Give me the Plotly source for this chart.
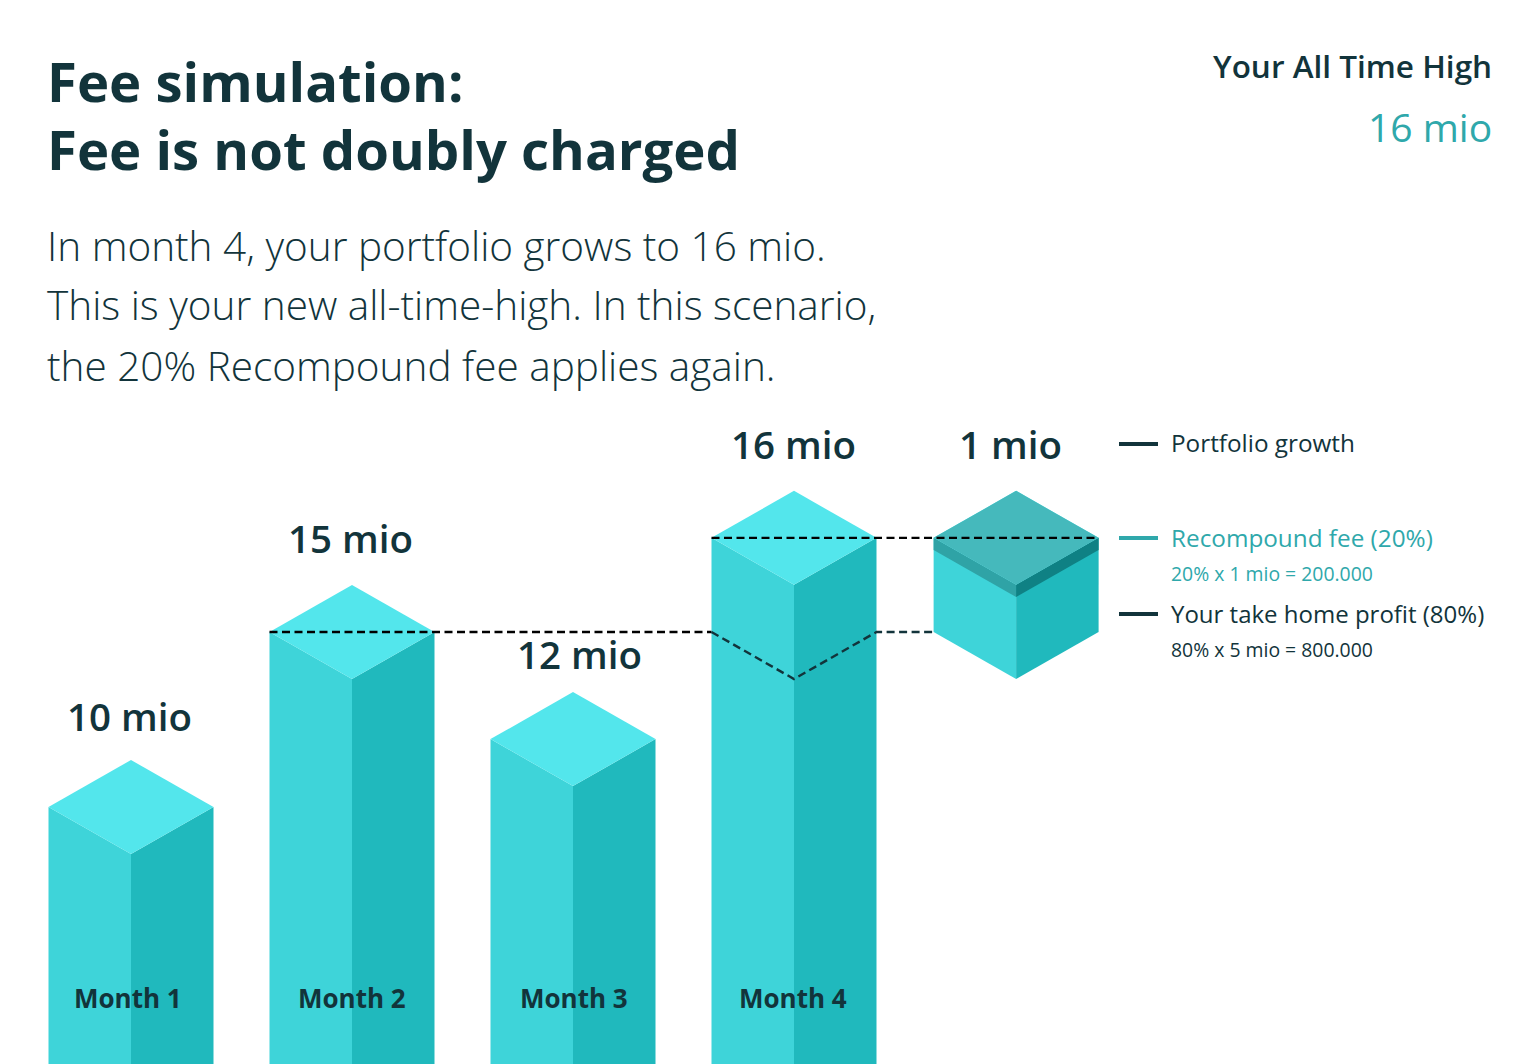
import plotly.graph_objects as go

# ---- data -------------------------------------------------------------
months = ["Month 1", "Month 2", "Month 3", "Month 4"]
month_pos = [1, 2, 3, 4]
value_labels = ["10 mio", "15 mio", "12 mio", "16 mio"]
drawn_heights = [10.0, 15.0, 11.94, 17.69]
previous_high = 15.0
cube_pos = 5.005
cube_label = "1 mio"
cube_base = 15.0
cube_top = 17.69
fee_band = 0.35
all_time_high = "16 mio"

title_lines = ["Fee simulation:", "Fee is not doubly charged"]
body_lines = ["In month 4, your portfolio grows to 16 mio.",
              "This is your new all-time-high. In this scenario,",
              "the 20% Recompound fee applies again."]

# ---- style ------------------------------------------------------------
W, H = 1540, 1064
DARK = "#12343B"
TEAL = "#2FA8AB"
TOP, LEFT, RIGHT = "#53E6EC", "#3ED4D9", "#20B9BD"
FEE_TOP, FEE_LEFT, FEE_RIGHT = "#45B9BC", "#2FA3A6", "#0F8184"
HALF_W = 82.5 / 221      # half bar width in slot units
RISE = 47 / 35           # rhombus half height in mio units
SANS = "Open Sans"

fig = go.Figure()

def poly(xs, ys, color):
    fig.add_trace(go.Scatter(x=xs, y=ys, mode="lines", fill="toself", fillcolor=color,
                             line=dict(width=0), hoverinfo="skip", showlegend=False))

def prism(c, base, top, cl=LEFT, cr=RIGHT, ct=TOP):
    poly([c - HALF_W, c, c, c - HALF_W, c - HALF_W],
         [top, top - RISE, base - RISE, base, top], cl)
    poly([c, c + HALF_W, c + HALF_W, c, c],
         [top - RISE, top, base, base - RISE, top - RISE], cr)
    poly([c - HALF_W, c, c + HALF_W, c, c - HALF_W],
         [top, top + RISE, top, top - RISE, top], ct)

for p, h in zip(month_pos, drawn_heights):
    prism(p, 0, h)

prism(cube_pos, cube_base, cube_top)
prism(cube_pos, cube_top - fee_band, cube_top, FEE_LEFT, FEE_RIGHT, FEE_TOP)

# dashed guides
dash = dict(color="#000000", width=2.4, dash="8px,4.5px")
fig.add_trace(go.Scatter(x=[month_pos[3] - HALF_W, cube_pos + HALF_W], y=[cube_top, cube_top],
                         mode="lines", line=dash, hoverinfo="skip", showlegend=False))
fig.add_trace(go.Scatter(x=[month_pos[1] - HALF_W, month_pos[3] - HALF_W], y=[previous_high] * 2,
                         mode="lines", line=dash, hoverinfo="skip", showlegend=False))
fig.add_trace(go.Scatter(x=[month_pos[3] - HALF_W, month_pos[3], month_pos[3] + HALF_W, cube_pos - HALF_W],
                         y=[previous_high, previous_high - RISE, previous_high, previous_high],
                         mode="lines", line=dict(color=DARK, width=2.4, dash="8px,4.5px"),
                         hoverinfo="skip", showlegend=False))

# ---- text -------------------------------------------------------------
ann = []

def page_text(px, py, text, size, color=DARK, weight=400, anchor="left"):
    pad = -3 if anchor == "left" else 3
    ann.append(dict(xref="paper", yref="paper", x=(px + pad) / W, y=1 - (py - 1) / H, text=text, showarrow=False,
                    xanchor=anchor, yanchor="middle", align=anchor,
                    font=dict(family=SANS, size=size, color=color, weight=weight)))

for i, t in enumerate(title_lines):
    page_text(48, 82 + 68 * i, t, 54.5, weight=700)
for i, t in enumerate(body_lines):
    page_text(48, 246 + 60 * i, t, 40.5, weight=300)
page_text(1491, 67, "Your All Time High", 31.5, weight=600, anchor="right")
page_text(1491, 127, all_time_high, 39, color=TEAL, anchor="right")

label_nudge = [(-2, 91), (-2, 94), (6, 85), (-1, 94)]
for p, h, v, (dx, dy) in zip(month_pos, drawn_heights, value_labels, label_nudge):
    ann.append(dict(x=p, y=h, text=v, showarrow=False, xshift=dx, yshift=dy, yanchor="middle",
                    font=dict(family=SANS, size=38.5, color=DARK, weight=600)))
ann.append(dict(x=cube_pos, y=cube_top, text=cube_label, showarrow=False, xshift=-6, yshift=94,
                yanchor="middle", font=dict(family=SANS, size=38.5, color=DARK, weight=600)))

month_label_y = 4.54
month_nudge = [-3, 0, 1, -1]
for p, m, dx in zip(month_pos, months, month_nudge):
    ann.append(dict(x=p, y=month_label_y, text=m, showarrow=False, xshift=dx, yanchor="middle",
                    font=dict(family=SANS, size=26, color=DARK, weight=700)))

legend_rows = [(444, DARK), (538, TEAL), (614, DARK)]
shapes = [dict(type="line", xref="paper", yref="paper", x0=1119 / W, x1=1158 / W,
               y0=1 - y / H, y1=1 - y / H, line=dict(color=c, width=4)) for y, c in legend_rows]
page_text(1172, 444, "Portfolio growth", 24.3, weight=500)
page_text(1172, 538, "Recompound fee (20%)", 24.3, color=TEAL, weight=500)
page_text(1172, 574, "20% x 1 mio = 200.000", 19.4, color=TEAL, weight=500)
page_text(1172, 614, "Your take home profit (80%)", 24, weight=500)
page_text(1172, 650, "80% x 5 mio = 800.000", 19.4, weight=500)

fig.update_layout(
    width=W, height=H, margin=dict(l=0, r=0, t=0, b=0),
    paper_bgcolor="white", plot_bgcolor="white", showlegend=False,
    annotations=ann, shapes=shapes,
    xaxis=dict(range=[1 - 131 / 221, 1 + (W - 131) / 221], visible=False, fixedrange=True),
    yaxis=dict(range=[(1157 - H) / 35, 1157 / 35], visible=False, fixedrange=True),
)

fig.write_html("out.html", config=dict(displayModeBar=False),
               post_script="document.body.style.margin='0';document.documentElement.style.overflow='hidden';window.dispatchEvent(new Event('resize'));")
